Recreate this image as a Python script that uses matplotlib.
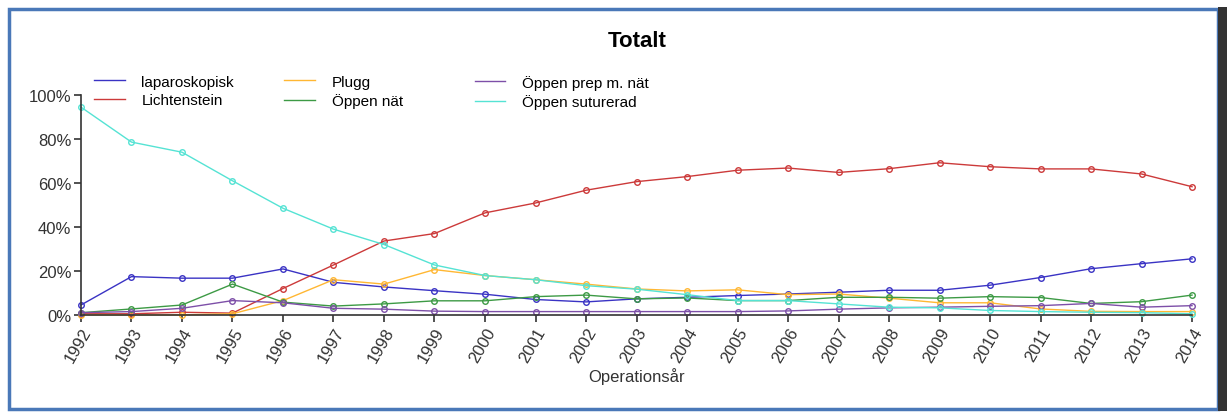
import matplotlib
matplotlib.use("Agg")
import matplotlib.pyplot as plt
from matplotlib.patches import Rectangle
from matplotlib.lines import Line2D

plt.rcParams['font.family'] = ['Liberation Sans', 'DejaVu Sans']

years = list(range(1992, 2015))

laparoskopisk = [4.5, 17.4, 16.7, 16.7, 20.9, 14.8, 12.7, 11.0, 9.4, 7.0, 5.9, 7.3,
                 8.0, 8.8, 9.5, 10.3, 11.2, 11.2, 13.5, 17.0, 21.0, 23.3, 25.5]
lichtenstein = [0.5, 0.5, 1.2, 0.8, 12.0, 22.7, 33.6, 37.0, 46.4, 50.9, 56.7, 60.6,
                62.9, 65.8, 66.8, 64.8, 66.5, 69.2, 67.4, 66.4, 66.4, 64.1, 58.3]
plugg = [0.0, 0.0, 0.0, 0.5, 6.5, 16.0, 14.0, 20.6, 17.9, 16.0, 14.0, 11.8,
         10.9, 11.4, 9.2, 9.5, 7.6, 5.5, 5.5, 2.7, 1.6, 1.5, 1.5]
oppen_nat = [1.0, 2.7, 4.5, 14.0, 5.8, 4.0, 5.0, 6.4, 6.4, 8.3, 9.0, 7.3,
             7.7, 6.5, 6.5, 8.0, 8.0, 7.6, 8.3, 7.9, 5.2, 6.0, 9.0]
oppen_prep = [1.0, 1.5, 3.0, 6.5, 5.5, 3.0, 2.6, 1.7, 1.5, 1.5, 1.5, 1.5,
              1.5, 1.5, 1.8, 2.6, 3.2, 3.5, 3.9, 4.2, 5.2, 3.5, 4.2]
oppen_sut = [94.5, 78.6, 74.0, 61.0, 48.5, 39.0, 32.0, 22.7, 17.9, 16.0, 13.3, 11.7,
             9.2, 6.5, 6.5, 5.0, 3.5, 3.2, 2.0, 1.5, 1.2, 1.0, 0.5]

series = [
    ("laparoskopisk", laparoskopisk, "#3a33c4"),
    ("Lichtenstein", lichtenstein, "#cc3a3a"),
    ("Plugg", plugg, "#ffb733"),
    ("Öppen nät", oppen_nat, "#3d9a45"),
    ("Öppen prep m. nät", oppen_prep, "#7d4fa8"),
    ("Öppen suturerad", oppen_sut, "#55e3d4"),
]

fig = plt.figure(figsize=(12.27, 4.14), dpi=100)
ax = fig.add_axes([0.066, 0.237, 0.9055, 0.531])

for name, vals, col in series:
    ax.plot(years, vals, color=col, lw=1.0, marker='o', markersize=4,
            markerfacecolor='none', markeredgewidth=1.0, clip_on=False,
            label=name)

ax.set_xlim(1992, 2014)
ax.set_ylim(0, 100)
ax.set_xticks(years)
ax.set_xticklabels([str(y) for y in years], rotation=60, ha='right',
                   rotation_mode='anchor', fontsize=12, color='#333333')
ax.set_yticks([0, 20, 40, 60, 80, 100])
ax.set_yticklabels(['0%', '20%', '40%', '60%', '80%', '100%'], fontsize=12,
                   color='#333333')
for s in ['top', 'right']:
    ax.spines[s].set_visible(False)
for s in ['left', 'bottom']:
    ax.spines[s].set_color('#333333')
    ax.spines[s].set_linewidth(1.2)
ax.tick_params(length=5, width=1.2, color='#333333', pad=2)
ax.set_xlabel('Operationsår', fontsize=12, color='#333333', labelpad=2)

fig.text(0.519, 0.899, 'Totalt', fontsize=16, fontweight='bold',
         ha='center', va='center')

# legend: three columns of two entries
col_x = [0.068, 0.223, 0.378]
for i, x0 in enumerate(col_x):
    part = series[2 * i:2 * i + 2]
    fig.legend([Line2D([0], [0], color=c, lw=1.0) for _, _, c in part],
               [n for n, _, _ in part], frameon=False,
               loc='upper left', bbox_to_anchor=(x0, 0.843), fontsize=11,
               handlelength=2.0, labelspacing=0.3, handletextpad=1.1,
               borderpad=0.2)

# screenshot frame
fig.patches.append(Rectangle((0.007, 0.01), 0.986, 0.967, transform=fig.transFigure,
                             fill=False, edgecolor='#4a78b8', lw=2.5))
fig.patches.append(Rectangle((0.993, 0.005), 0.007, 0.975, transform=fig.transFigure,
                             facecolor='#333333', edgecolor='none'))

fig.savefig('out.png', dpi=100)
